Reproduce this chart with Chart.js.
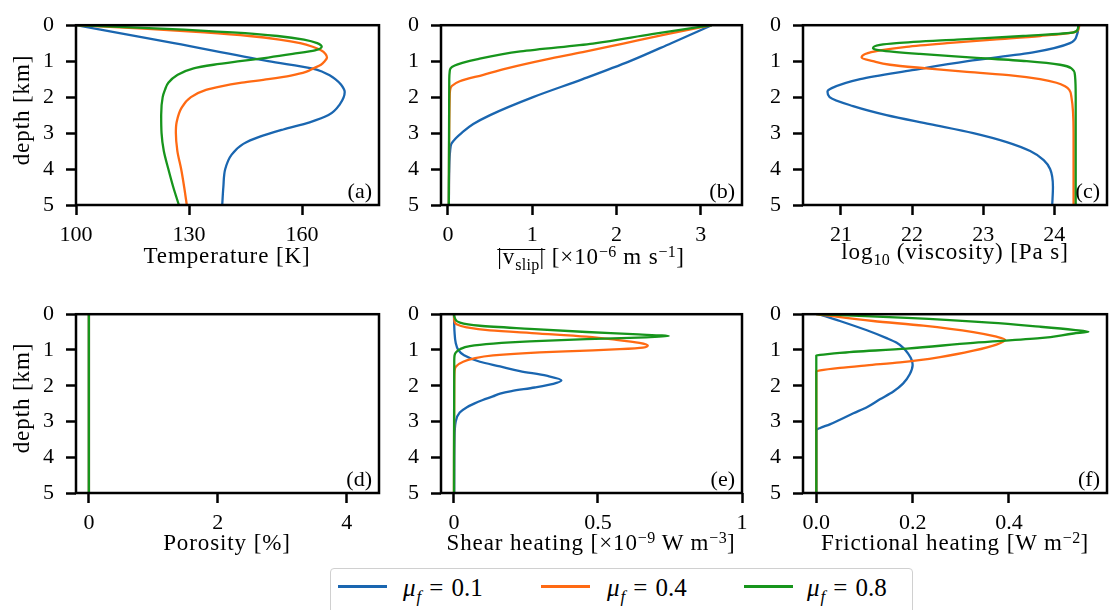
<!DOCTYPE html>
<html>
<head>
<meta charset="utf-8">
<script src="https://cdn.jsdelivr.net/npm/chart.js@4.4.0/dist/chart.umd.min.js"></script>
<style>
  body { margin: 0; background: #fff; width: 1114px; height: 610px; position: relative; overflow: hidden;
         font-family: "Liberation Serif", serif; color: #000; }
  canvas { position: absolute; }
  .xt { position: absolute; transform: translateX(-50%); font-size: 23px; line-height: 1; white-space: nowrap; letter-spacing: 0.9px; }
  .yt { position: absolute; transform: translate(-50%, -50%) rotate(-90deg); font-size: 23px; line-height: 1; white-space: nowrap; letter-spacing: 0.9px; }
  .xt sup, .xt sub { font-size: 16px; line-height: 0; letter-spacing: 0.3px; }
  .xt sup { vertical-align: 0.42em; }
  .ovl { display: inline-block; line-height: 13px; border-top: 1.5px solid #000; }
  #legend { position: absolute; left: 330px; top: 568px; width: 581px; height: 50px; border: 1.5px solid #d0d0d0; border-radius: 4px; }
  .sw { position: absolute; height: 2.5px; width: 49px; top: 585px; }
  .lt { position: absolute; top: 575px; font-size: 25px; line-height: 1; white-space: nowrap; }
  .lt sub { font-size: 17px; line-height: 0; margin-left: 1px; }
  .lt .eq { margin: 0 8px; }
</style>
</head>
<body>
<canvas id="cA" width="392" height="245" style="left:0;top:0"></canvas>
<canvas id="cB" width="360" height="245" style="left:395px;top:0"></canvas>
<canvas id="cC" width="357" height="245" style="left:757px;top:0"></canvas>
<canvas id="cD" width="392" height="246" style="left:0;top:289px"></canvas>
<canvas id="cE" width="360" height="246" style="left:395px;top:289px"></canvas>
<canvas id="cF" width="357" height="246" style="left:757px;top:289px"></canvas>

<div class="yt" style="left:21px;top:110px">depth [km]</div>
<div class="yt" style="left:21px;top:398px">depth [km]</div>

<div class="xt" style="left:227px;top:244px">Temperature [K]</div>
<div class="xt" style="left:591px;top:245px"><span class="ovl">|v<sub>slip</sub>|</span> [×10<sup>−6</sup> m s<sup>−1</sup>]</div>
<div class="xt" style="left:955px;top:240px">log<sub>10</sub> (viscosity) [Pa s]</div>
<div class="xt" style="left:227px;top:531px">Porosity [%]</div>
<div class="xt" style="left:591px;top:531px">Shear heating [×10<sup>−9</sup> W m<sup>−3</sup>]</div>
<div class="xt" style="left:955px;top:531px">Frictional heating [W m<sup>−2</sup>]</div>

<div id="legend"></div>
<div class="sw" style="left:338px;background:#1a66b0"></div>
<div class="lt" style="left:403px"><i>μ</i><sub><i>f</i></sub><span class="eq">=</span>0.1</div>
<div class="sw" style="left:541px;background:#ff6a13"></div>
<div class="lt" style="left:607px"><i>μ</i><sub><i>f</i></sub><span class="eq">=</span>0.4</div>
<div class="sw" style="left:744px;background:#17951c"></div>
<div class="lt" style="left:807px"><i>μ</i><sub><i>f</i></sub><span class="eq">=</span>0.8</div>

<script>
// friction coefficients and their colours
const muLabels = ["0.1", "0.4", "0.8"];
const muColors = ["#1a66b0", "#ff6a13", "#17951c"];

const depthTicks = [0, 1, 2, 3, 4, 5];

// (a) temperature [K]
const tempDepth01 = [0, 0.25, 0.5, 1.0, 1.2, 1.3, 1.4, 1.5, 1.65, 1.86, 2.2, 2.5, 2.7, 2.9, 3.1, 3.3, 3.6, 4.0, 4.5, 5.0];
const temp01 = [100, 113, 126, 151, 162.5, 165.5, 167.4, 168.8, 170.3, 171.3, 170, 167, 162, 155, 148.8, 144.4, 141.3, 139.6, 139.1, 138.8];
const tempDepth04 = [0, 0.1, 0.2, 0.3, 0.4, 0.5, 0.6, 0.7, 0.8, 0.9, 1.0, 1.1, 1.2, 1.3, 1.4, 1.5, 1.6, 1.7, 1.8, 2.0, 2.3, 2.7, 3.0, 3.5, 4.0, 4.5, 5.0];
const temp04 = [100, 119, 134, 146, 154, 159.5, 162.8, 165, 166.2, 166.6, 166, 165, 163, 161, 157, 151, 144, 138.5, 134.5, 130.5, 128, 126.7, 126.5, 126.9, 127.9, 128.7, 129.4];
const tempDepth08 = [0, 0.1, 0.2, 0.3, 0.4, 0.5, 0.6, 0.7, 0.8, 0.9, 1.0, 1.1, 1.2, 1.4, 1.6, 1.8, 2.0, 2.5, 3.0, 3.5, 4.0, 4.5, 5.0];
const temp08 = [100, 124, 141.5, 153.5, 160.5, 164, 165.2, 163.4, 157.5, 151, 143.5, 136.5, 131.2, 126.7, 124.5, 123.6, 123, 122.6, 122.7, 123.3, 124.5, 125.8, 127.3];
const tempTicks = [100, 130, 160];
const tempTickLabels = ["100", "130", "160"];

// (b) 1/|v_slip| [1e-6 m s^-1]
const slipDepth01 = [0, 0.5, 1.0, 1.5, 2.0, 2.5, 2.75, 3.0, 3.15, 3.3, 3.5, 4.0, 5.0];
const slip01 = [3.13, 2.65, 2.16, 1.6, 1.01, 0.5, 0.3, 0.16, 0.09, 0.04, 0.025, 0.015, 0.01];
const slipDepth04 = [0, 0.25, 0.51, 0.75, 0.95, 1.2, 1.38, 1.56, 1.69, 1.8, 2.0, 5.0];
const slip04 = [3.13, 2.6, 2.08, 1.6, 1.17, 0.7, 0.42, 0.14, 0.045, 0.025, 0.02, 0.01];
const slipDepth08 = [0, 0.25, 0.51, 0.73, 0.95, 1.05, 1.12, 1.2, 1.3, 1.5, 5.0];
const slip08 = [3.13, 2.42, 1.72, 0.86, 0.34, 0.17, 0.08, 0.03, 0.02, 0.015, 0.01];
const slipTicks = [0, 1, 2, 3];
const slipTickLabels = ["0", "1", "2", "3"];

// (c) log10 viscosity [Pa s]
const viscDepth01 = [0, 0.25, 0.5, 0.75, 1.0, 1.25, 1.5, 1.75, 1.85, 2.0, 2.25, 2.5, 2.75, 3.0, 3.25, 3.5, 3.75, 4.0, 4.5, 5.0];
const visc01 = [24.34, 24.32, 24.22, 23.72, 22.78, 22.0, 21.27, 20.87, 20.81, 20.84, 21.17, 21.64, 22.25, 22.86, 23.33, 23.66, 23.85, 23.94, 23.98, 23.97];
const viscDepth04 = [0, 0.1, 0.2, 0.3, 0.4, 0.5, 0.6, 0.7, 0.8, 0.9, 1.0, 1.1, 1.2, 1.3, 1.4, 1.5, 1.6, 1.7, 1.8, 2.0, 3.0, 5.0];
const visc04 = [24.35, 24.34, 24.27, 23.8, 23.14, 22.49, 21.92, 21.55, 21.34, 21.29, 21.45, 21.69, 22.2, 22.77, 23.42, 23.8, 24.03, 24.15, 24.21, 24.24, 24.27, 24.27];
const viscDepth08 = [0, 0.1, 0.2, 0.3, 0.4, 0.5, 0.55, 0.64, 0.7, 0.8, 0.9, 1.0, 1.1, 1.2, 1.4, 2.0, 5.0];
const visc08 = [24.34, 24.33, 24.27, 23.56, 22.63, 21.78, 21.55, 21.45, 21.55, 22.11, 22.86, 23.61, 24.08, 24.24, 24.29, 24.3, 24.3];
const viscTicks = [21, 22, 23, 24];
const viscTickLabels = ["21", "22", "23", "24"];

// (d) porosity [%]
const poroDepth = [0, 5];
const poro01 = [0, 0];
const poro04 = [0, 0];
const poro08 = [0, 0];
const poroTicks = [0, 2, 4];
const poroTickLabels = ["0", "2", "4"];

// (e) shear heating [1e-9 W m^-3]
const shearDepth01 = [0, 0.5, 0.8, 1.0, 1.15, 1.33, 1.46, 1.59, 1.72, 1.85, 1.95, 2.05, 2.15, 2.22, 2.3, 2.4, 2.5, 2.6, 2.75, 3.0, 3.5, 5.0];
const shear01 = [0, 0.002, 0.006, 0.015, 0.035, 0.09, 0.16, 0.229, 0.321, 0.373, 0.345, 0.28, 0.2, 0.16, 0.135, 0.1, 0.07, 0.045, 0.02, 0.006, 0.002, 0.001];
const shearDepth04 = [0, 0.2, 0.28, 0.367, 0.455, 0.542, 0.629, 0.717, 0.804, 0.874, 0.935, 0.979, 1.023, 1.066, 1.154, 1.241, 1.329, 1.46, 1.6, 2.0, 5.0];
const shear04 = [0, 0.002, 0.009, 0.044, 0.125, 0.298, 0.46, 0.564, 0.644, 0.673, 0.656, 0.575, 0.436, 0.298, 0.136, 0.067, 0.032, 0.007, 0.002, 0.001, 0];
const shearDepth08 = [0, 0.105, 0.236, 0.323, 0.41, 0.498, 0.559, 0.612, 0.647, 0.699, 0.76, 0.822, 0.892, 0.979, 1.066, 1.154, 1.3, 5.0];
const shear08 = [0, 0.003, 0.021, 0.09, 0.263, 0.46, 0.621, 0.746, 0.667, 0.46, 0.263, 0.136, 0.055, 0.021, 0.007, 0.002, 0.001, 0];
const shearTicks = [0, 0.5, 1];
const shearTickLabels = ["0", "0.5", "1"];

// (f) frictional heating [W m^-2]
const fricDepth01 = [0, 0.19, 0.45, 0.67, 0.8, 0.935, 1.11, 1.28, 1.42, 1.68, 1.94, 2.16, 2.38, 2.6, 2.77, 2.95, 3.08, 3.18, 3.25, 5.0];
const fric01 = [0.005, 0.049, 0.105, 0.146, 0.167, 0.18, 0.191, 0.198, 0.2, 0.194, 0.18, 0.16, 0.132, 0.105, 0.077, 0.049, 0.028, 0.008, 0, 0];
const fricDepth04 = [0, 0.19, 0.32, 0.5, 0.63, 0.717, 0.85, 1.02, 1.2, 1.35, 1.43, 1.5, 1.57, 1.6, 5.0];
const fric04 = [0, 0.118, 0.222, 0.326, 0.374, 0.392, 0.374, 0.326, 0.257, 0.174, 0.105, 0.049, 0.008, 0, 0];
const fricDepth08 = [0, 0.105, 0.236, 0.35, 0.437, 0.49, 0.54, 0.67, 0.8, 0.96, 1.08, 1.14, 1.15, 5.0];
const fric08 = [0, 0.188, 0.36, 0.464, 0.534, 0.565, 0.534, 0.464, 0.326, 0.188, 0.049, 0.008, 0, 0];
const fricTicks = [0, 0.2, 0.4];
const fricTickLabels = ["0.0", "0.2", "0.4"];

const tickFont = { family: "Liberation Serif", size: 22 };

// box around the axes + panel letter in the lower right corner
const framePlugin = {
  id: "frame",
  afterDraw(chart, args, opts) {
    const { ctx, chartArea: a } = chart;
    ctx.save();
    ctx.strokeStyle = "#000";
    ctx.lineWidth = 2.5;
    ctx.strokeRect(a.left, a.top, a.right - a.left, a.bottom - a.top);
    ctx.font = '22px "Liberation Serif"';
    ctx.fillStyle = "#000";
    ctx.textAlign = "right";
    ctx.textBaseline = "alphabetic";
    ctx.fillText(opts.tag, a.right - 7, a.bottom - 7);
    ctx.restore();
  }
};

function series(values, depths, i) {
  return {
    label: "μf = " + muLabels[i],
    data: values.map((v, k) => ({ x: v, y: depths[k] })),
    borderColor: muColors[i],
    borderWidth: 2.3,
    pointRadius: 0,
    cubicInterpolationMode: "monotone",
    order: 2 - i
  };
}

function panel(id, p) {
  const ctx = document.getElementById(id).getContext("2d");
  return new Chart(ctx, {
    type: "line",
    data: { datasets: p.datasets },
    plugins: [framePlugin],
    options: {
      responsive: false,
      animation: false,
      indexAxis: "y",
      layout: { padding: { top: p.top, right: p.right, left: 0, bottom: 0 } },
      plugins: { legend: { display: false }, tooltip: { enabled: false }, frame: { tag: p.tag } },
      scales: {
        x: {
          type: "linear",
          position: "bottom",
          min: p.xmin,
          max: p.xmax,
          afterBuildTicks: s => { s.ticks = p.xticks.map(v => ({ value: v })); },
          afterFit: s => { s.height = p.xh; },
          ticks: { font: tickFont, color: "#000", padding: 7, maxRotation: 0, autoSkip: false,
                   callback: (v, i) => p.xlabels[i] },
          grid: { drawOnChartArea: false, tickLength: 10, tickWidth: 2.5, tickColor: "#000" },
          border: { display: false }
        },
        y: {
          type: "linear",
          position: "left",
          reverse: true,
          min: 0,
          max: 5,
          afterBuildTicks: s => { s.ticks = depthTicks.map(v => ({ value: v })); },
          afterFit: s => { s.width = p.yw; },
          ticks: { font: tickFont, color: "#000", padding: 12, autoSkip: false },
          grid: { drawOnChartArea: false, tickLength: 10, tickWidth: 2.5, tickColor: "#000" },
          border: { display: false }
        }
      }
    }
  });
}

panel("cA", { tag: "(a)", top: 14, right: 13, yw: 76, xh: 40,
  xmin: 100, xmax: 180.4, xticks: tempTicks, xlabels: tempTickLabels,
  datasets: [series(temp01, tempDepth01, 0), series(temp04, tempDepth04, 1), series(temp08, tempDepth08, 2)] });

panel("cB", { tag: "(b)", top: 14, right: 13, yw: 46, xh: 40,
  xmin: -0.083, xmax: 3.49, xticks: slipTicks, xlabels: slipTickLabels,
  datasets: [series(slip01, slipDepth01, 0), series(slip04, slipDepth04, 1), series(slip08, slipDepth08, 2)] });

panel("cC", { tag: "(c)", top: 14, right: 7, yw: 46, xh: 40,
  xmin: 20.466, xmax: 24.74, xticks: viscTicks, xlabels: viscTickLabels,
  datasets: [series(visc01, viscDepth01, 0), series(visc04, viscDepth04, 1), series(visc08, viscDepth08, 2)] });

panel("cD", { tag: "(d)", top: 14, right: 13, yw: 76, xh: 42,
  xmin: -0.2, xmax: 4.5, xticks: poroTicks, xlabels: poroTickLabels,
  datasets: [series(poro01, poroDepth, 0), series(poro04, poroDepth, 1), series(poro08, poroDepth, 2)] });

panel("cE", { tag: "(e)", top: 14, right: 13, yw: 46, xh: 42,
  xmin: -0.045, xmax: 1.0, xticks: shearTicks, xlabels: shearTickLabels,
  datasets: [series(shear01, shearDepth01, 0), series(shear04, shearDepth04, 1), series(shear08, shearDepth08, 2)] });

panel("cF", { tag: "(f)", top: 14, right: 7, yw: 46, xh: 42,
  xmin: -0.0276, xmax: 0.6035, xticks: fricTicks, xlabels: fricTickLabels,
  datasets: [series(fric01, fricDepth01, 0), series(fric04, fricDepth04, 1), series(fric08, fricDepth08, 2)] });
</script>
</body>
</html>
